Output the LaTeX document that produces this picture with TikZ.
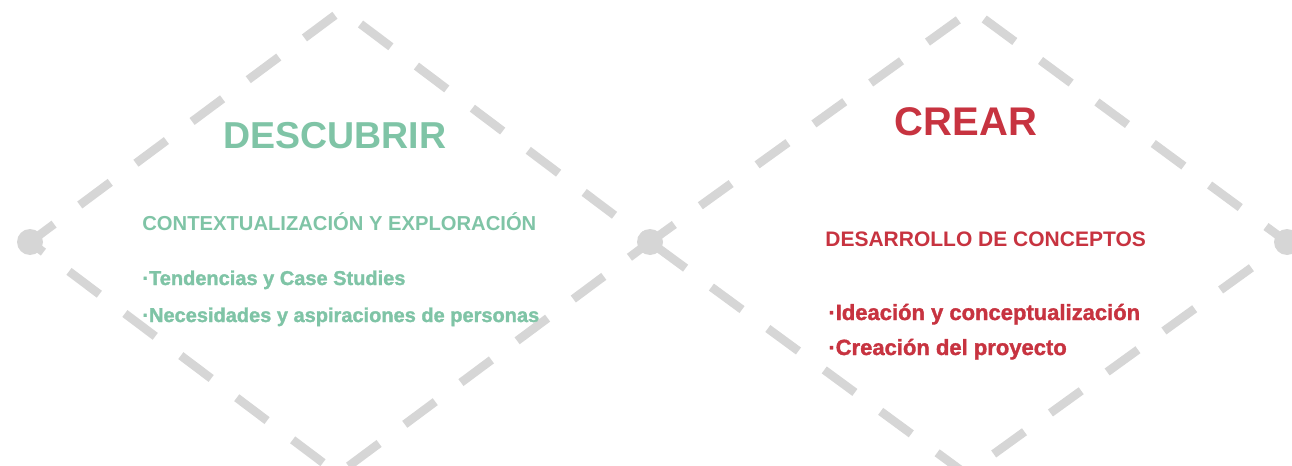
\documentclass[tikz,border=0pt]{standalone}
\usepackage{fontspec}
\setmainfont{Liberation Sans}
\newfontfamily\gruesa{Liberation Sans}[BoldFeatures={FakeBold=1.5}]
\definecolor{menta}{HTML}{7FC4A6}
\definecolor{rojo}{HTML}{C73340}
\definecolor{gris}{HTML}{D6D6D6}

\begin{document}
\begin{tikzpicture}[x=.5pt,y=-.5pt,
		guion/.style={draw=gris,line width=4.3pt,dash pattern=on 19pt off 16pt,dash phase=4pt},
		punto/.style={circle,fill=gris,inner sep=0pt,minimum size=13pt},
		texto/.style={font=\bfseries\fontsize{#1}{#1}\selectfont,anchor=base west,inner sep=0pt},
		lista/.style={font=\gruesa\bfseries\fontsize{#1}{#1}\selectfont,anchor=base west,inner sep=0pt}]
	\useasboundingbox (0,0) rectangle (1292,466);
	
	% vertices of the two diamonds
	\coordinate (oeste) at (30,242);
	\coordinate (centro) at (650,242);
	\coordinate (este) at (1287,242);
	\coordinate (norteI) at (342,10);
	\coordinate (surI) at (338,474);
	\coordinate (norteII) at (972,10);
	\coordinate (surII) at (966,474);
	
	\draw[guion] (oeste) -- (norteI) -- (centro) -- (surI) -- cycle;
	\draw[guion] (centro) -- (norteII) -- (este) -- (surII) -- cycle;
	\foreach \v in {oeste,centro,este}
		\node[punto] (p\v) at (\v) {};
	
	% descubrir
	\node[texto=18.75pt,anchor=base,text=menta] (descubrir) at (335,148) {DESCUBRIR};
	\node[texto=10.1pt,text=menta] (contexto) at (142,230) {CONTEXTUALIZACIÓN Y EXPLORACIÓN};
	\node[lista=10pt,text=menta] (tendencias) at (142,285) {·Tendencias y Case Studies};
	\node[lista=10pt,text=menta] (necesidades) at (142,322) {·Necesidades y aspiraciones de personas};
	
	% crear
	\node[texto=20pt,anchor=base,text=rojo] (crear) at (966,135) {CREAR};
	\node[texto=10.5pt,text=rojo] (desarrollo) at (825,246) {DESARROLLO DE CONCEPTOS};
	\node[lista=11pt,text=rojo] (ideacion) at (828,320) {·Ideación y conceptualización};
	\node[lista=11pt,text=rojo] (creacion) at (828,355) {·Creación del proyecto};
\end{tikzpicture}
\end{document}
